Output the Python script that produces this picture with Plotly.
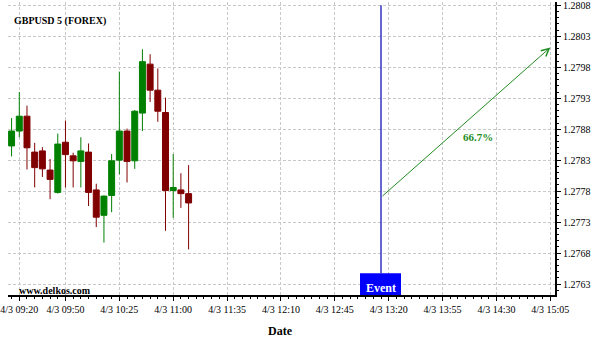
import plotly.graph_objects as go

day = "2023-04-03"

# 5-minute candles (time of bar)
times = ["09:15", "09:20", "09:25", "09:30", "09:35", "09:40", "09:45", "09:50",
         "09:55", "10:00", "10:05", "10:10", "10:15", "10:20", "10:25", "10:30",
         "10:35", "10:40", "10:45", "10:50", "10:55", "11:00", "11:05", "11:10"]
opens = [1.27853, 1.27877, 1.27901, 1.27843, 1.27845, 1.27814, 1.27778, 1.27859,
         1.27837, 1.27828, 1.27843, 1.27782, 1.27741, 1.27773, 1.27830, 1.27877,
         1.27829, 1.27906, 1.27985, 1.27943, 1.27907, 1.27781, 1.27782, 1.27776]
highs = [1.27898, 1.27940, 1.27918, 1.27858, 1.27851, 1.27832, 1.27873, 1.27894,
         1.27842, 1.27867, 1.27857, 1.27792, 1.27773, 1.27840, 1.27973, 1.27881,
         1.27911, 1.28009, 1.28001, 1.27978, 1.27931, 1.27840, 1.27809, 1.27822]
lows = [1.27836, 1.27867, 1.27815, 1.27786, 1.27803, 1.27767, 1.27776, 1.27786,
        1.27786, 1.27786, 1.27756, 1.27722, 1.27697, 1.27746, 1.27807, 1.27794,
        1.27816, 1.27877, 1.27924, 1.27892, 1.27716, 1.27737, 1.27753, 1.27686]
closes = [1.27877, 1.27901, 1.27850, 1.27818, 1.27816, 1.27799, 1.27856, 1.27839,
          1.27829, 1.27845, 1.27778, 1.27738, 1.27772, 1.27829, 1.27877, 1.27828,
          1.27909, 1.27989, 1.27943, 1.27909, 1.27781, 1.27786, 1.27776, 1.27761]

x_tick_times = ["09:20", "09:50", "10:25", "11:00", "11:35", "12:10",
                "12:45", "13:20", "13:55", "14:30", "15:05"]
x_tick_labels = ["4/3 " + t for t in x_tick_times]
y_ticks = [1.2763, 1.2768, 1.2773, 1.2778, 1.2783, 1.2788, 1.2793, 1.2798, 1.2803, 1.2808]

x_range = ["09:12:40", "15:08:03"]
y_range = [1.276124, 1.280853]

event_time = "13:15"
arrow_start_price = 1.27770
arrow_end_time = "15:05"
arrow_end_price = 1.28012
pct_label = "66.7%"
pct_label_time = "14:18"
pct_label_price = 1.27867

title_text = "GBPUSD 5 (FOREX)"
watermark = "www.delkos.com"


def dt(t):
    return f"{day} {t}"


FONT = "Liberation Serif"
GREEN = "#008000"
RED = "#800000"
ARROW = "#228B22"
GRID = "#c8c8c8"

fig = go.Figure()
fig.add_trace(go.Candlestick(
    x=[dt(t) for t in times], open=opens, high=highs, low=lows, close=closes,
    increasing=dict(line=dict(color=GREEN, width=1), fillcolor=GREEN),
    decreasing=dict(line=dict(color=RED, width=1), fillcolor=RED),
    hoverinfo="skip", showlegend=False,
))

# plot area geometry (pixels) used for paper positioning
plot_h = 295.0
plot_l = 7.0
plot_w = 548.0

fig.update_layout(
    width=600, height=340,
    margin=dict(l=7, r=45, t=0, b=45),
    paper_bgcolor="white", plot_bgcolor="white",
    boxgap=0.12, boxgroupgap=0.12,
    showlegend=False,
    font=dict(family=FONT, size=10, color="black"),
    xaxis=dict(
        type="date", range=[dt(x_range[0]), dt(x_range[1])],
        tickmode="array", tickvals=[dt(t) for t in x_tick_times], ticktext=x_tick_labels,
        ticks="outside", ticklen=4, tickcolor="black", tickwidth=1,
        showline=True, linecolor="black", linewidth=2,
        showgrid=True, gridcolor=GRID, griddash="3px,2px", gridwidth=1,
        zeroline=False, ticklabeloverflow="allow",
        tickfont=dict(family=FONT, size=10, color="black"),
        rangeslider=dict(visible=False),
        minor=dict(dtick=300000, tick0=dt(times[0]), ticks="outside", ticklen=2,
                   tickcolor="black", showgrid=False),
    ),
    yaxis=dict(
        side="right", range=y_range,
        tickmode="array", tickvals=y_ticks, tickformat=".4f",
        ticks="outside", ticklen=4, tickcolor="black",
        showline=True, linecolor="black", linewidth=2,
        showgrid=True, gridcolor=GRID, griddash="3px,2px", gridwidth=1,
        zeroline=False, ticklabeloverflow="allow",
        tickfont=dict(family=FONT, size=10, color="black"),
        minor=dict(dtick=0.0001, tick0=y_ticks[0], ticks="outside", ticklen=2,
                   tickcolor="black", showgrid=False),
    ),
)

box_h = 22.0
# Event marker box + line
fig.add_shape(type="rect", xref="x", yref="paper", xsizemode="pixel",
              xanchor=dt(event_time), x0=-21, x1=20, y0=0, y1=box_h / plot_h,
              fillcolor="#0000FF", line=dict(width=0), layer="above")
fig.add_shape(type="line", xref="x", yref="paper",
              x0=dt(event_time), x1=dt(event_time),
              y0=box_h / plot_h, y1=(plot_h - 3.3) / plot_h,
              line=dict(color="#0000B8", width=1.2), layer="above")
fig.add_annotation(x=dt(event_time), xref="x", y=(plot_h - 287.7) / plot_h, yref="paper",
                   text="<b>Event</b>", showarrow=False, xanchor="center", yanchor="middle",
                   font=dict(family=FONT, size=12, color="white"))

# Arrow
fig.add_annotation(x=dt(arrow_end_time), y=arrow_end_price, xref="x", yref="y",
                   ax=dt(event_time), ay=arrow_start_price, axref="x", ayref="y",
                   text="", showarrow=True, arrowhead=5, arrowsize=1.5, arrowwidth=1,
                   arrowcolor=ARROW, standoff=0, startstandoff=0)
fig.add_annotation(x=dt(pct_label_time), y=pct_label_price, xref="x", yref="y",
                   text=f"<b>{pct_label}</b>", showarrow=False,
                   font=dict(family=FONT, size=11, color=ARROW))

# Title, watermark, axis title
fig.add_annotation(x=(11 - plot_l) / plot_w, y=(plot_h - 19) / plot_h, xref="paper", yref="paper",
                   text=f"<b>{title_text}</b>", showarrow=False, xanchor="left", yanchor="middle",
                   font=dict(family=FONT, size=10, color="black"))
fig.add_annotation(x=(16 - plot_l) / plot_w, y=(plot_h - 290) / plot_h, xref="paper", yref="paper",
                   text=f"<b>{watermark}</b>", showarrow=False, xanchor="left", yanchor="middle",
                   font=dict(family=FONT, size=10, color="black"))
fig.add_annotation(x=(280 - plot_l) / plot_w, y=(plot_h - 331) / plot_h, xref="paper", yref="paper",
                   text="<b>Date</b>", showarrow=False, xanchor="center", yanchor="middle",
                   font=dict(family=FONT, size=12, color="black"))

fig.write_html("out.html")
